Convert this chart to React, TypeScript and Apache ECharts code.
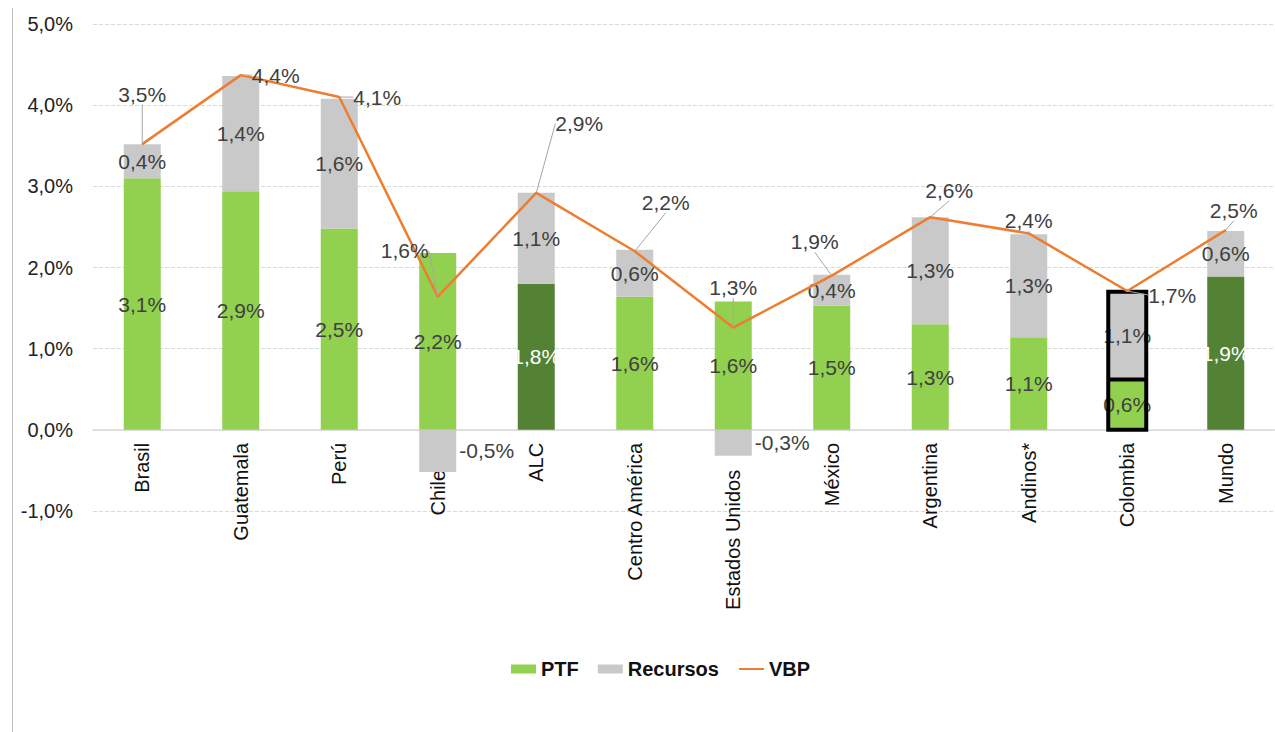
import React, { useEffect, useRef } from "react";
import * as echarts from "echarts";

const categories = ["Brasil", "Guatemala", "Perú", "Chile", "ALC", "Centro América", "Estados Unidos", "México", "Argentina", "Andinos*", "Colombia", "Mundo"];
const ptf = [3.1, 2.94, 2.48, 2.18, 1.8, 1.64, 1.58, 1.53, 1.3, 1.14, 0.62, 1.89];
const recursos = [0.42, 1.42, 1.6, -0.52, 1.12, 0.58, -0.32, 0.38, 1.32, 1.27, 1.08, 0.56];
const vbp = [3.52, 4.37, 4.1, 1.64, 2.92, 2.2, 1.26, 1.9, 2.62, 2.42, 1.71, 2.46];
const darkCats = ["ALC", "Mundo"];
const highlightCat = "Colombia";

const Y_MIN = -1;
const Y_MAX = 5;
const GRID_TOP = 24;
const GRID_HEIGHT = 487;
const BAR_W = 37;

const GREEN = "#92D050";
const DARK = "#548235";
const GRAY = "#C9C9C9";
const ORANGE = "#ED7D31";
const FONT = "Arial, 'Liberation Sans', sans-serif";

// label offsets (px) for VBP labels relative to their points
const vbpLabelOffsets: [number, number][] = [
  [0, -50], [35, 0], [38, 0], [-33, -46], [43, -69], [31, -49],
  [0, -40], [-17, -34], [19, -27], [0, -13], [45, 4], [8, -20],
];

const fmt = (v: number) => v.toFixed(1).replace(".", ",") + "%";

export default function App() {
  const ref = useRef<HTMLDivElement>(null);
  useEffect(() => {
    const chart = echarts.init(ref.current!, null, { renderer: "svg" });
    const labelBase = { fontSize: 21, fontFamily: FONT, color: "#404040" };
    const zeroOffset = -(GRID_HEIGHT * (0 - Y_MIN)) / (Y_MAX - Y_MIN);
    const hiIdx = categories.indexOf(highlightCat);
    chart.setOption({
      animation: false,
      backgroundColor: "#fff",
      textStyle: { fontFamily: FONT },
      grid: { left: 93, right: -9, top: GRID_TOP, height: GRID_HEIGHT, containLabel: false },
      legend: {
        bottom: 48,
        left: 506,
        itemWidth: 25,
        itemHeight: 9,
        itemGap: 19,
        textStyle: { fontSize: 20, fontWeight: "bold", color: "#111", fontFamily: FONT },
        data: [
          { name: "PTF", icon: "rect" },
          { name: "Recursos", icon: "rect" },
          { name: "VBP", itemStyle: { opacity: 0 } },
        ],
      },
      graphic: [
        { type: "line", shape: { x1: 12.5, y1: 8, x2: 12.5, y2: 732 }, style: { stroke: "#BFBFBF", lineWidth: 1 } },
      ],
      xAxis: {
        type: "category",
        data: categories,
        offset: zeroOffset,
        axisLine: { show: true, onZero: false, lineStyle: { color: "#D9D9D9", width: 1.5 } },
        axisTick: { show: false },
        axisLabel: {
          rotate: 90,
          fontSize: 20,
          color: "#111",
          margin: 13,
          fontFamily: FONT,
          interval: 0,
          formatter: (v: string) => {
            const i = categories.indexOf(v);
            return recursos[i] < 0 ? `{n|${v}}` : v;
          },
          rich: { n: { fontSize: 20, color: "#111", fontFamily: FONT, padding: [0, 27, 0, 0] } },
        },
      },
      yAxis: {
        type: "value",
        min: Y_MIN,
        max: Y_MAX,
        interval: 1,
        axisLine: { show: false },
        axisTick: { show: false },
        axisLabel: { formatter: (v: number) => fmt(v), fontSize: 20, color: "#222", margin: 20, fontFamily: FONT },
        splitLine: { lineStyle: { color: "#D9D9D9", type: "dashed", width: 1 } },
      },
      series: [
        {
          name: "PTF",
          type: "bar",
          stack: "a",
          barWidth: BAR_W,
          itemStyle: { color: GREEN },
          label: { show: true, position: "inside", formatter: (p: any) => fmt(p.value), ...labelBase },
          data: ptf.map((v, i) => {
            const c = categories[i];
            const item: any = { value: v };
            if (darkCats.includes(c)) {
              item.itemStyle = { color: DARK };
              item.label = { color: "#fff" };
            }
            return item;
          }),
        },
        {
          name: "Recursos",
          type: "bar",
          stack: "a",
          barWidth: BAR_W,
          itemStyle: { color: GRAY },
          label: { show: true, position: "inside", formatter: (p: any) => fmt(p.value), ...labelBase },
          data: recursos.map((v) => {
            const item: any = { value: v };
            if (v < 0) item.label = { position: "right", distance: 3 };
            return item;
          }),
        },
        {
          name: "outline",
          type: "custom",
          z: 4,
          silent: true,
          data: [[hiIdx, ptf[hiIdx], ptf[hiIdx] + recursos[hiIdx]]],
          renderItem: (_params: any, api: any) => {
            const x = api.value(0);
            const base = api.coord([x, 0]);
            const mid = api.coord([x, api.value(1)]);
            const top = api.coord([x, api.value(2)]);
            const half = BAR_W / 2 + 0.5;
            return {
              type: "group",
              children: [
                {
                  type: "rect",
                  shape: { x: base[0] - half, y: top[1], width: half * 2, height: base[1] - top[1] },
                  style: { fill: "none", stroke: "#000", lineWidth: 4 },
                },
                {
                  type: "line",
                  shape: { x1: base[0] - half, y1: mid[1], x2: base[0] + half, y2: mid[1] },
                  style: { stroke: "#000", lineWidth: 4 },
                },
              ],
            };
          },
        },
        {
          name: "VBP",
          type: "line",
          data: vbp,
          symbol: "circle",
          symbolSize: 1,
          showSymbol: true,
          itemStyle: { color: ORANGE },
          lineStyle: { color: ORANGE, width: 2.5 },
          z: 5,
          label: { show: true, position: "inside", formatter: (p: any) => fmt(p.value), ...labelBase },
          labelLine: { show: true, lineStyle: { color: "#A6A6A6", width: 1 } },
          labelLayout: (p: any) => ({ dx: vbpLabelOffsets[p.dataIndex][0], dy: vbpLabelOffsets[p.dataIndex][1] }),
        },
      ],
    });
    return () => chart.dispose();
  }, []);
  return <div ref={ref} style={{ position: "fixed", left: 0, top: 0, width: 1275, height: 732 }} />;
}
